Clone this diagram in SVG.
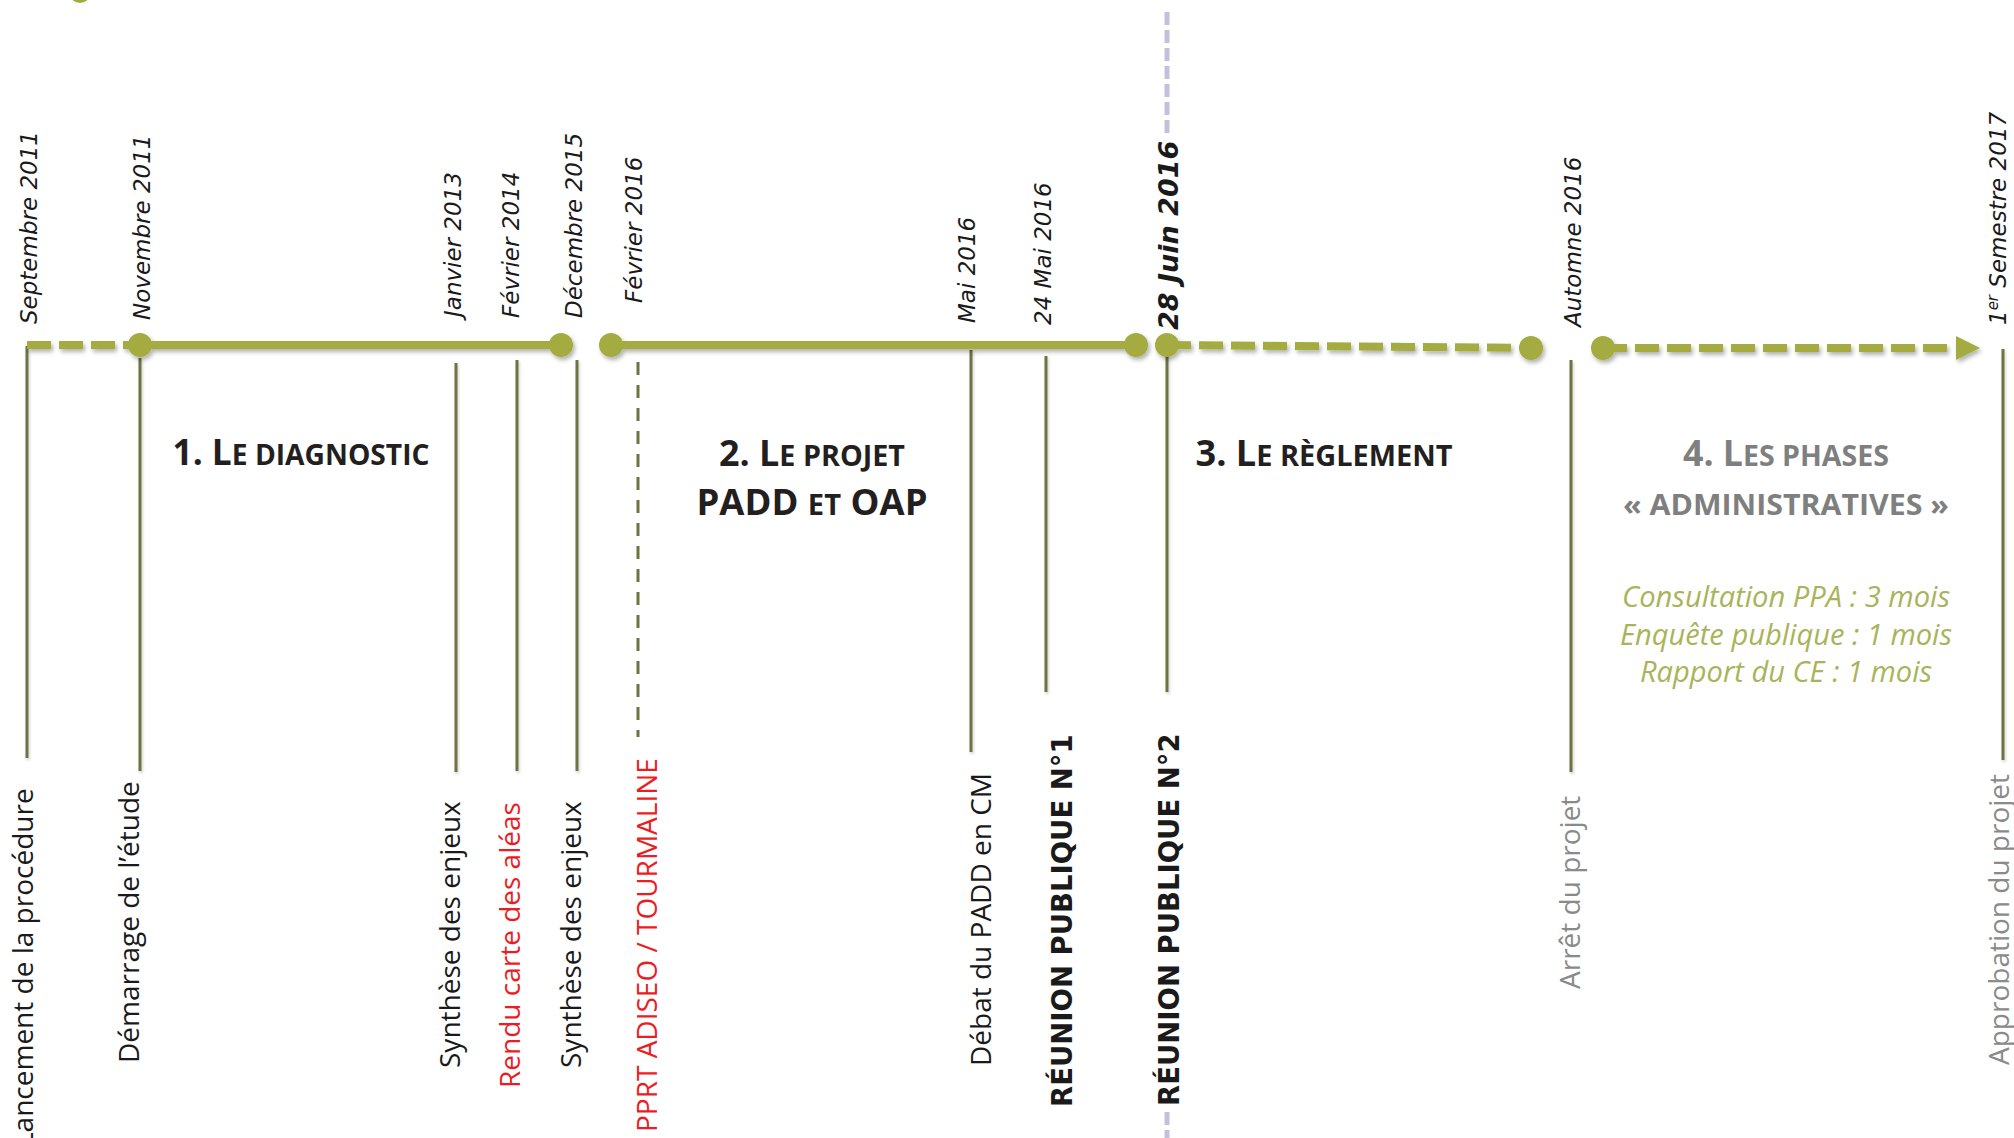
<svg xmlns="http://www.w3.org/2000/svg" width="2014" height="1138" viewBox="0 0 2014 1138">
<defs>
<style>
.date{font-family:"DejaVu Sans",sans-serif;font-style:italic;font-size:23px;fill:#1a1a1a}
.dbold{font-family:"DejaVu Sans",sans-serif;font-style:italic;font-weight:bold;font-size:27px;fill:#1a1a1a}
.lbl{font-family:"Open Sans",sans-serif;font-size:28px;fill:#1a1a1a}
.red{fill:#ed1c24}
.grey{fill:#8a8a8a}
.rp{font-family:"DejaVu Sans",sans-serif;font-weight:bold;font-size:27.5px;fill:#1a1a1a}
.title{font-family:"Open Sans",sans-serif;font-weight:700;fill:#231f20;text-anchor:middle}
.gt{fill:#7f7f7f}
.big{font-size:35px}
.sc{font-size:28px}
.note{font-family:"Open Sans",sans-serif;font-style:italic;font-size:28.5px;fill:#a9b45a;text-anchor:middle}
.tick{stroke:#6e7341;stroke-width:3;fill:none}
.tl{stroke:#a4ab3f;stroke-width:8;fill:none}
.dash{stroke-dasharray:24 8}
.dot{fill:#a4ab3f}
.purple{stroke:#c4bfdc;stroke-width:5;stroke-dasharray:13 5;fill:none}
</style>
<filter id="sh" filterUnits="userSpaceOnUse" x="0" y="0" width="2014" height="1138">
<feDropShadow dx="2" dy="3" stdDeviation="2" flood-color="#000" flood-opacity="0.3"/>
</filter>
<filter id="sh2" filterUnits="userSpaceOnUse" x="0" y="0" width="2014" height="1138">
<feDropShadow dx="1" dy="2" stdDeviation="1.5" flood-color="#000" flood-opacity="0.2"/>
</filter>
</defs>
<rect width="2014" height="1138" fill="#ffffff"/>

<circle cx="80" cy="-8" r="11" class="dot"/>

<g id="marker-line">
<line class="purple" x1="1167" y1="12" x2="1167" y2="134"/>
<line class="purple" x1="1167" y1="1112" x2="1167" y2="1138"/>
</g>

<g id="ev-sept2011">
<line class="tick" x1="27" y1="346" x2="27" y2="758" filter="url(#sh2)"/>
<text class="date" transform="translate(37,324) rotate(-90)">Septembre 2011</text>
<text class="lbl" transform="translate(33,1147) rotate(-90)">Lancement de la procédure</text>
</g>

<g id="ev-nov2011">
<line class="tick" x1="140" y1="358" x2="140" y2="771" filter="url(#sh2)"/>
<text class="date" transform="translate(150,320) rotate(-90)">Novembre 2011</text>
<text class="lbl" transform="translate(139,1063) rotate(-90)">Démarrage de l’étude</text>
</g>

<g id="ev-jan2013">
<line class="tick" x1="456" y1="363" x2="456" y2="772" filter="url(#sh2)"/>
<text class="date" transform="translate(461,317) rotate(-90)">Janvier 2013</text>
<text class="lbl" transform="translate(460,1068) rotate(-90)">Synthèse des enjeux</text>
</g>

<g id="ev-fev2014">
<line class="tick" x1="517" y1="360" x2="517" y2="771" filter="url(#sh2)"/>
<text class="date" transform="translate(519,318) rotate(-90)">Février 2014</text>
<text class="lbl red" transform="translate(520,1088) rotate(-90)">Rendu carte des aléas</text>
</g>

<g id="ev-dec2015">
<line class="tick" x1="577" y1="360" x2="577" y2="771" filter="url(#sh2)"/>
<text class="date" transform="translate(582,318) rotate(-90)">Décembre 2015</text>
<text class="lbl" transform="translate(581,1068) rotate(-90)">Synthèse des enjeux</text>
</g>

<g id="ev-fev2016">
<line class="tick" x1="638" y1="362" x2="638" y2="737" stroke-dasharray="13 10"/>
<text class="date" transform="translate(642,303) rotate(-90)">Février 2016</text>
<text class="lbl red" transform="translate(657,1132) rotate(-90)">PPRT ADISEO / TOURMALINE</text>
</g>

<g id="ev-mai2016">
<line class="tick" x1="971" y1="350" x2="971" y2="752" filter="url(#sh2)"/>
<text class="date" transform="translate(975,323) rotate(-90)">Mai 2016</text>
<text class="lbl" transform="translate(991,1066) rotate(-90)">Débat du PADD en CM</text>
</g>

<g id="ev-24mai2016">
<line class="tick" x1="1046" y1="356" x2="1046" y2="692" filter="url(#sh2)"/>
<text class="date" transform="translate(1051,325) rotate(-90)">24 Mai 2016</text>
<text class="rp" transform="translate(1072,1107) rotate(-90)">RÉUNION PUBLIQUE N°1</text>
</g>

<g id="ev-28juin2016">
<line class="tick" x1="1167" y1="345" x2="1167" y2="692" filter="url(#sh2)"/>
<text class="dbold" transform="translate(1178,330) rotate(-90)">28 Juin 2016</text>
<text class="rp" transform="translate(1179,1106) rotate(-90)">RÉUNION PUBLIQUE N°2</text>
</g>

<g id="ev-automne2016">
<line class="tick" x1="1571" y1="360" x2="1571" y2="772" filter="url(#sh2)"/>
<text class="date" transform="translate(1581,327) rotate(-90)">Automne 2016</text>
<text class="lbl grey" transform="translate(1580,989) rotate(-90)">Arrêt du projet</text>
</g>

<g id="ev-sem2017">
<line class="tick" x1="2003" y1="349" x2="2003" y2="760" filter="url(#sh2)"/>
<text class="date" transform="translate(2006,325) rotate(-90)">1<tspan font-size="15" dy="-8">er</tspan><tspan dy="8"> Semestre 2017</tspan></text>
<text class="lbl grey" transform="translate(2009,1065) rotate(-90)">Approbation du projet</text>
</g>

<g id="phase-1">
<text class="title" x="301" y="465" textLength="257" lengthAdjust="spacingAndGlyphs"><tspan class="big">1. L</tspan><tspan class="sc">E DIAGNOSTIC</tspan></text>
</g>

<g id="phase-2">
<text class="title" x="812" y="466" textLength="186" lengthAdjust="spacingAndGlyphs"><tspan class="big">2. L</tspan><tspan class="sc">E PROJET</tspan></text>
<text class="title" x="812" y="515" textLength="231" lengthAdjust="spacingAndGlyphs"><tspan class="big">PADD </tspan><tspan class="sc">ET</tspan><tspan class="big"> OAP</tspan></text>
</g>

<g id="phase-3">
<text class="title" x="1324" y="466" textLength="257" lengthAdjust="spacingAndGlyphs"><tspan class="big">3. L</tspan><tspan class="sc">E RÈGLEMENT</tspan></text>
</g>

<g id="phase-4">
<text class="title gt" x="1786" y="466" textLength="206" lengthAdjust="spacingAndGlyphs"><tspan class="big">4. L</tspan><tspan class="sc">ES PHASES</tspan></text>
<text class="title gt sc" x="1786" y="515" textLength="326" lengthAdjust="spacingAndGlyphs">« ADMINISTRATIVES »</text>
<text class="note" x="1786" y="607" textLength="328" lengthAdjust="spacingAndGlyphs">Consultation PPA : 3 mois</text>
<text class="note" x="1786" y="645" textLength="332" lengthAdjust="spacingAndGlyphs">Enquête publique : 1 mois</text>
<text class="note" x="1786" y="682" textLength="292" lengthAdjust="spacingAndGlyphs">Rapport du CE : 1 mois</text>
</g>

<g id="connectors" filter="url(#sh)">
<line class="tl dash" x1="27" y1="345" x2="140" y2="345"/>
<line class="tl" x1="140" y1="345" x2="561" y2="345"/>
<line class="tl" x1="611" y1="345" x2="1136" y2="345"/>
<line class="tl dash" x1="1167" y1="345" x2="1512" y2="347.8"/>
<line class="tl dash" x1="1603" y1="348" x2="1947" y2="348"/>
<polygon class="dot" points="1956,336 1980,348 1956,360"/>
<circle class="dot" cx="140" cy="345" r="12"/>
<circle class="dot" cx="561" cy="345" r="12"/>
<circle class="dot" cx="611" cy="345" r="12"/>
<circle class="dot" cx="1136" cy="345" r="12"/>
<circle class="dot" cx="1167" cy="345" r="12"/>
<circle class="dot" cx="1531" cy="348" r="12"/>
<circle class="dot" cx="1603" cy="348" r="12"/>
</g>
</svg>
